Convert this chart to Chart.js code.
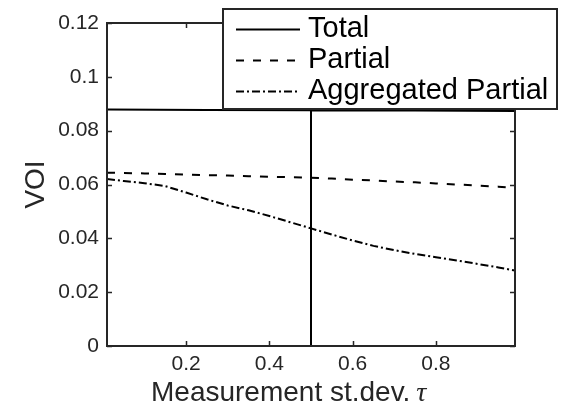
<!DOCTYPE html>
<html><head><meta charset="utf-8">
<script src="https://cdn.jsdelivr.net/npm/chart.js@4.4.1/dist/chart.umd.min.js"></script>
<style>html,body{margin:0;padding:0;background:#fff}#wrap{width:565px;height:408px}</style>
</head><body><div id="wrap"><canvas id="c" width="565" height="408"></canvas></div>
<script>
// ---- data ----
const tau = [0.01, 0.05, 0.1, 0.15, 0.2, 0.25, 0.3, 0.35, 0.4, 0.45, 0.5, 0.55, 0.6, 0.65, 0.7, 0.75, 0.8, 0.85, 0.9, 0.95, 0.99];
const partialVOI = [0.0644, 0.0643, 0.0641, 0.0639, 0.0637, 0.0635, 0.0633, 0.0631, 0.0629, 0.0627, 0.0625, 0.0622, 0.0618, 0.0615, 0.0611, 0.0608, 0.0604, 0.0600, 0.0596, 0.0592, 0.0588];
const aggregatedVOI = [0.0620, 0.0613, 0.0605, 0.0594, 0.0570, 0.0545, 0.0522, 0.0504, 0.0483, 0.0460, 0.0437, 0.0414, 0.0392, 0.0372, 0.0356, 0.0342, 0.0330, 0.0318, 0.0305, 0.0292, 0.0280];
const totalTau = [0.01, 0.25, 0.5, 0.5, 0.5, 0.75, 0.99];
const totalVOI = [0.0879, 0.0877, 0.0876, 0, 0.0876, 0.0875, 0.0873];
const seriesNames = ['Total', 'Partial', 'Aggregated Partial'];
const xTicks = [0.2, 0.4, 0.6, 0.8];
const xTickLabels = ['0.2', '0.4', '0.6', '0.8'];
const yTicks = [0, 0.02, 0.04, 0.06, 0.08, 0.1, 0.12];
const yTickLabels = ['0', '0.02', '0.04', '0.06', '0.08', '0.1', '0.12'];
const xTitleText = 'Measurement st.dev. ';
const xTitleSymbol = 'τ';
const yTitle = 'VOI';

const FONT = '"Liberation Sans", Arial, Helvetica, sans-serif';
const AX = '#262626';
const toXY = (xs, ys) => xs.map((x, i) => ({x: x, y: ys[i]}));

const framePlugin = {
  id: 'frame',
  afterDatasetsDraw(chart) {
    const {ctx, chartArea: a, scales: {x, y}} = chart;
    ctx.save();
    ctx.strokeStyle = AX;
    ctx.lineWidth = 1.5;
    ctx.beginPath();
    for (const v of xTicks) {
      const px = Math.round(x.getPixelForValue(v)) + 0.5;
      ctx.moveTo(px, a.bottom); ctx.lineTo(px, a.bottom - 5);
      ctx.moveTo(px, a.top); ctx.lineTo(px, a.top + 5);
    }
    for (const v of yTicks) {
      const py = Math.round(y.getPixelForValue(v)) + 0.5;
      ctx.moveTo(a.left, py); ctx.lineTo(a.left + 5, py);
      ctx.moveTo(a.right, py); ctx.lineTo(a.right - 5, py);
    }
    ctx.stroke();
    ctx.lineWidth = 2;
    ctx.strokeRect(a.left, a.top, a.right - a.left, a.bottom - a.top);
    ctx.restore();
  }
};

const titlePlugin = {
  id: 'xTitle',
  afterDraw(chart) {
    const ctx = chart.ctx;
    ctx.save();
    ctx.fillStyle = AX;
    ctx.textBaseline = 'alphabetic';
    ctx.textAlign = 'left';
    ctx.font = '28px ' + FONT;
    const x0 = 151, base = 401;
    ctx.fillText(xTitleText, x0, base);
    const w = ctx.measureText(xTitleText).width;
    ctx.font = 'italic 28px "Liberation Serif", "DejaVu Serif", serif';
    ctx.fillText(xTitleSymbol, x0 + w - 2, base);
    ctx.restore();
  }
};

const legendPlugin = {
  id: 'boxLegend',
  afterDraw(chart) {
    const ctx = chart.ctx;
    const bx = 223, by = 9, bw = 334, bh = 100;
    ctx.save();
    ctx.fillStyle = '#fff';
    ctx.fillRect(bx, by, bw, bh);
    ctx.strokeStyle = AX;
    ctx.lineWidth = 2;
    ctx.strokeRect(bx, by, bw, bh);
    const rows = [29.5, 60.5, 91.5];
    chart.data.datasets.forEach((ds, i) => {
      ctx.save();
      ctx.strokeStyle = ds.borderColor;
      ctx.lineWidth = ds.borderWidth;
      ctx.setLineDash(ds.borderDash || []);
      ctx.beginPath();
      ctx.moveTo(236, rows[i]);
      ctx.lineTo(300, rows[i]);
      ctx.stroke();
      ctx.restore();
      ctx.fillStyle = '#000';
      ctx.font = '29px ' + FONT;
      ctx.textBaseline = 'alphabetic';
      ctx.textAlign = 'left';
      ctx.fillText(ds.label, 308, rows[i] + 7);
    });
    ctx.restore();
  }
};

new Chart(document.getElementById('c'), {
  type: 'line',
  data: {
    datasets: [
      {label: seriesNames[0], data: toXY(totalTau, totalVOI), borderColor: '#000', borderWidth: 2, borderDash: []},
      {label: seriesNames[1], data: toXY(tau, partialVOI), borderColor: '#000', borderWidth: 2, borderDash: [8, 9]},
      {label: seriesNames[2], data: toXY(tau, aggregatedVOI), borderColor: '#000', borderWidth: 2, borderDash: [8, 3, 2, 3]}
    ]
  },
  options: {
    responsive: false,
    animation: false,
    devicePixelRatio: 1,
    layout: {padding: {top: 23, right: 50, left: 0, bottom: 0}},
    elements: {point: {radius: 0}, line: {tension: 0, fill: false}},
    plugins: {legend: {display: false}, tooltip: {enabled: false}},
    scales: {
      x: {
        type: 'linear', min: 0.01, max: 0.99,
        afterBuildTicks: s => { s.ticks = xTicks.map(v => ({value: v})); },
        afterFit: s => { s.height = 62; },
        grid: {display: false, drawTicks: false}, border: {display: false},
        ticks: {padding: 6, color: AX, font: {family: FONT, size: 21}, maxRotation: 0,
          callback: v => xTickLabels[xTicks.indexOf(v)]},
        title: {display: false}
      },
      y: {
        type: 'linear', min: 0, max: 0.12,
        afterBuildTicks: s => { s.ticks = yTicks.map(v => ({value: v})); },
        afterFit: s => { s.width = 107; },
        grid: {display: false, drawTicks: false}, border: {display: false},
        ticks: {padding: 8, color: AX, font: {family: FONT, size: 21},
          callback: v => yTickLabels[yTicks.indexOf(v)]},
        title: {display: true, text: yTitle, color: AX, font: {family: FONT, size: 28}, padding: {top: 19, bottom: 0}}
      }
    }
  },
  plugins: [framePlugin, titlePlugin, legendPlugin]
});
</script>
</body></html>
